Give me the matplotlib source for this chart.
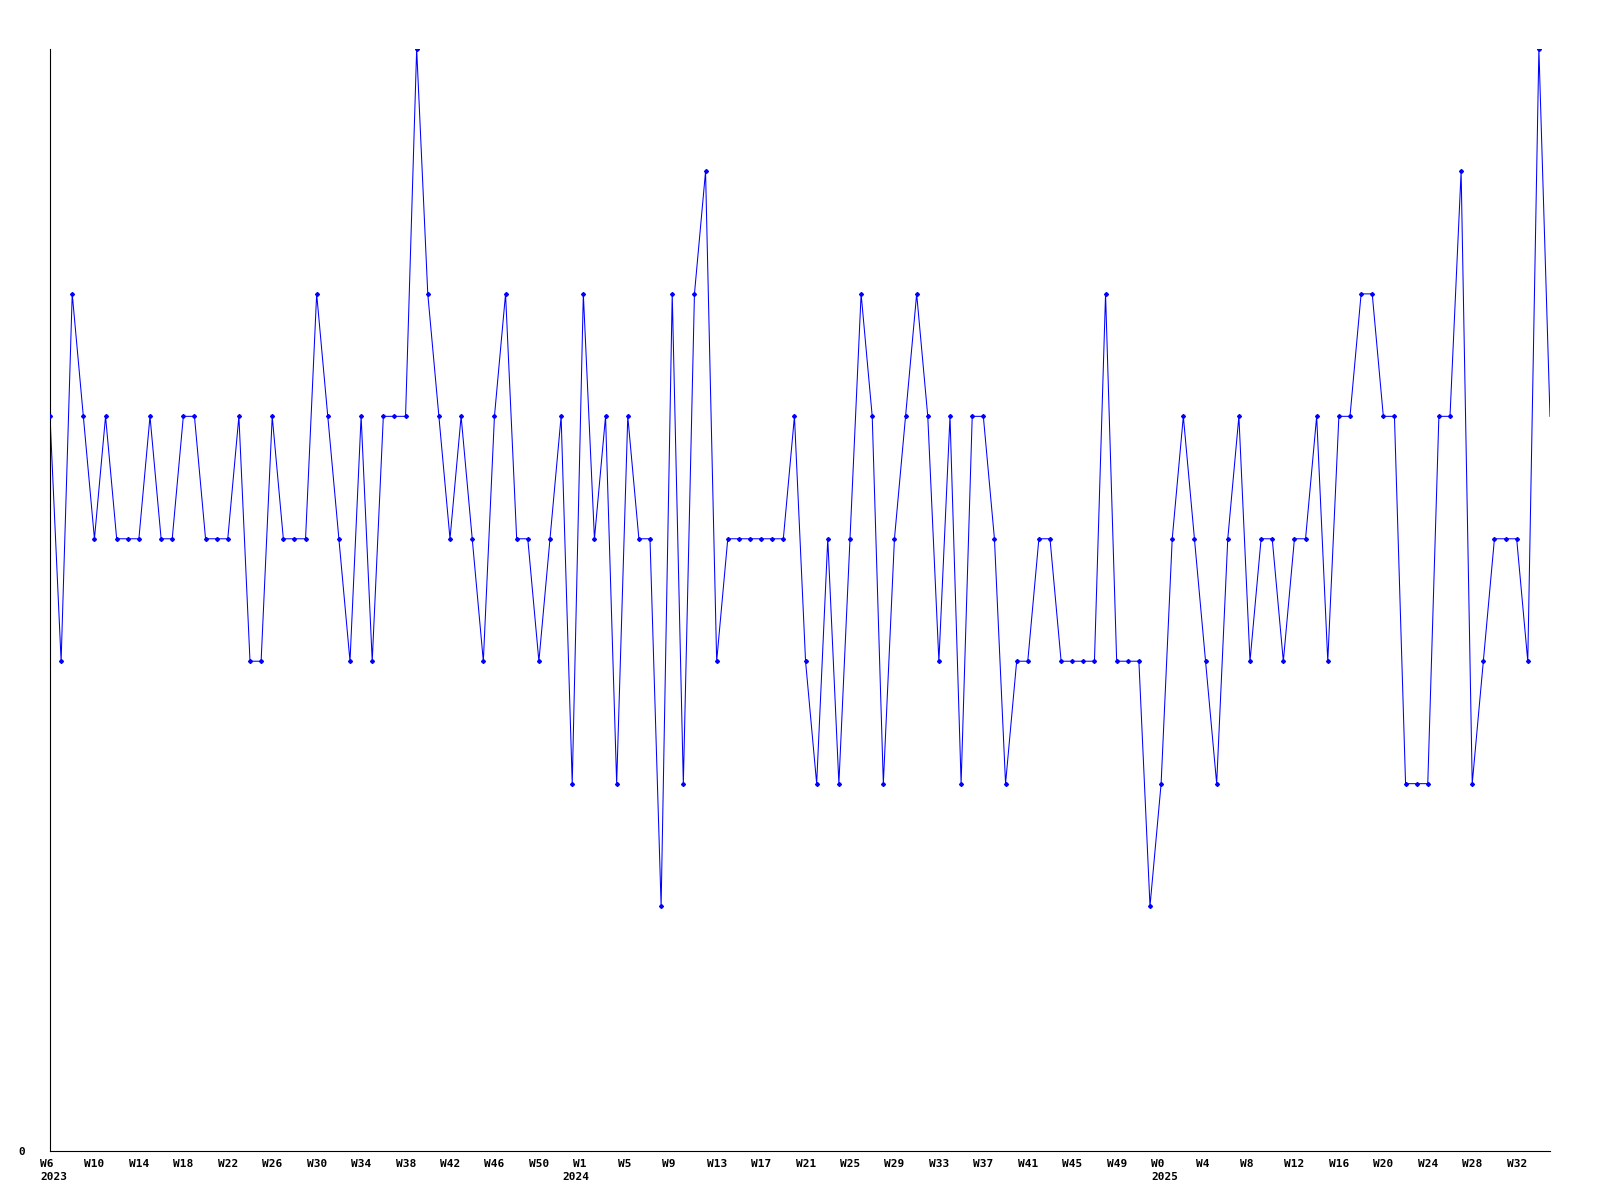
import matplotlib
matplotlib.use("Agg")
import matplotlib.pyplot as plt
import matplotlib.transforms as mtransforms
import numpy as np

# weekly values, W6 2023 .. W35 2025
values = [
    6, 4, 7, 6, 5, 6, 5, 5, 5, 6, 5, 5, 6, 6, 5, 5, 5, 6,
    4, 4, 6, 5, 5, 5, 7, 6, 5, 4, 6, 4, 6, 6, 6, 9, 7, 6,
    5, 6, 5, 4, 6, 7, 5, 5, 4, 5, 6, 3, 7, 5, 6, 3, 6, 5,
    5, 2, 7, 3, 7, 8, 4, 5, 5, 5, 5, 5, 5, 6, 4, 3, 5, 3,
    5, 7, 6, 3, 5, 6, 7, 6, 4, 6, 3, 6, 6, 5, 3, 4, 4, 5,
    5, 4, 4, 4, 4, 7, 4, 4, 4, 2, 3, 5, 6, 5, 4, 3, 5, 6,
    4, 5, 5, 4, 5, 5, 6, 4, 6, 6, 7, 7, 6, 6, 3, 3, 3, 6,
    6, 8, 3, 4, 5, 5, 5, 4, 9, 6,
]

week_labels = [
    "W6", "W10", "W14", "W18", "W22", "W26", "W30", "W34", "W38", "W42", "W46", "W50",
    "W1", "W5", "W9", "W13", "W17", "W21", "W25", "W29", "W33", "W37", "W41", "W45", "W49",
    "W0", "W4", "W8", "W12", "W16", "W20", "W24", "W28", "W32",
]
year_labels = ["2023", "2024", "2025"]
year_starts = [0, 47, 100]

x = np.arange(len(values))

fig = plt.figure(figsize=(16, 12), dpi=100)
ax = fig.add_axes([50 / 1600, 1 - 1151 / 1200, 1500 / 1600, 1102 / 1200])

ax.plot(x, values, color="#0000ff", linewidth=0.75, zorder=2)
ax.plot(x[:-1], values[:-1], linestyle="none", marker="D", markersize=2.0,
        color="#0000ff", zorder=3)

ax.set_xlim(0, len(values) - 1)
ax.set_ylim(0, max(values))

for side in ["top", "right"]:
    ax.spines[side].set_visible(False)
for side in ["left", "bottom"]:
    ax.spines[side].set_linewidth(0.8)
    ax.spines[side].set_color("black")

font = dict(family="DejaVu Sans Mono", fontweight="bold", fontsize=8)

ax.set_xticks([])
ax.set_yticks([0])
ax.set_yticklabels(["0"], **font)
ax.tick_params(axis="y", length=0, pad=18)

dpi_scale = fig.dpi_scale_trans
base = mtransforms.blended_transform_factory(ax.transData, ax.transAxes)
week_tr = base + mtransforms.ScaledTranslation(-10 / 100, -16 / 100, dpi_scale)
year_tr = base + mtransforms.ScaledTranslation(-10 / 100, -29 / 100, dpi_scale)

for i, lab in enumerate(week_labels):
    ax.text(i * 4, 0, lab, transform=week_tr, ha="left", va="baseline", **font)
for pos, lab in zip(year_starts, year_labels):
    ax.text(pos, 0, lab, transform=year_tr, ha="left", va="baseline", **font)

fig.savefig("out.png", dpi=100, facecolor="white")
